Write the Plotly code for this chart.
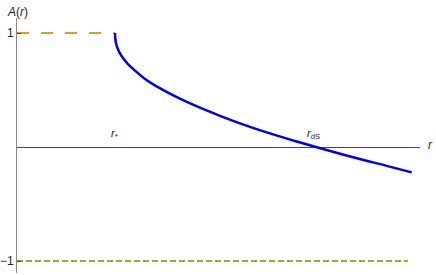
import plotly.graph_objects as go

# Data
r_curve = [1.0, 1.002, 1.008, 1.02, 1.045, 1.085, 1.13, 1.187, 1.303, 1.466, 1.663, 1.867,
           2.071, 2.276, 2.531, 2.837, 3.05, 3.429, 3.772, 4.028]
A_curve = [1.0, 0.96, 0.92, 0.88, 0.83, 0.776, 0.73, 0.683, 0.6, 0.512, 0.424, 0.345,
           0.274, 0.208, 0.133, 0.053, 0.0, -0.09, -0.165, -0.222]
r_orange = [0.0, 1.0]
A_orange = [1.0, 1.0]
r_green = [0.0, 3.99]
A_green = [-1.0, -1.0]
r_star = 1.0
r_dS = 3.03
ytick_vals = [1, -1]
ytick_text = ["1", "\u22121"]

fig = go.Figure()
fig.add_trace(go.Scatter(x=r_orange, y=A_orange, mode="lines",
                         line=dict(color="#E89B1E", width=2, dash="12px,12px"), hoverinfo="skip"))
fig.add_trace(go.Scatter(x=r_green, y=A_green, mode="lines",
                         line=dict(color="#8DB035", width=2, dash="6px,3px"), hoverinfo="skip"))
fig.add_trace(go.Scatter(x=r_curve, y=A_curve, mode="lines", line_shape="spline",
                         line=dict(color="#0000F0", width=2.5, smoothing=1.0), hoverinfo="skip"))

font = dict(family="Liberation Sans, Arial, sans-serif", size=11, color="#222")
font_big = dict(family="Liberation Sans, Arial, sans-serif", size=12, color="#222")
fig.update_layout(
    width=436, height=275,
    margin=dict(l=17, r=16, t=18, b=2, autoexpand=False),
    paper_bgcolor="white", plot_bgcolor="white",
    showlegend=False,
    font=font,
    xaxis=dict(range=[0, 4.112], showgrid=False, zeroline=False, showticklabels=False,
               ticks="", showline=False, fixedrange=True, automargin=False),
    yaxis=dict(range=[-1.105, 1.132], showgrid=False, zeroline=True, zerolinecolor="#444",
               zerolinewidth=1, showline=True, linecolor="#888", linewidth=1,
               tickvals=ytick_vals, ticktext=ytick_text, ticks="inside", ticklen=4,
               tickcolor="#444", tickfont=font_big, fixedrange=True, automargin=False),
    annotations=[
        dict(text="<i>A</i>(<i>r</i>)", xref="paper", yref="paper", x=0, y=1,
             xanchor="center", yanchor="bottom", showarrow=False, font=font_big, yshift=-3),
        dict(text="<i>r</i>", xref="paper", yref="y", x=1, y=0, xanchor="left",
             yanchor="middle", showarrow=False, font=font_big, xshift=6, yshift=2),
        dict(text="<i>r</i><sub>*</sub>", xref="x", yref="y", x=r_star, y=0,
             xanchor="center", yanchor="bottom", showarrow=False, font=font, yshift=4, xshift=-1),
        dict(text="<i>r</i><sub>dS</sub>", xref="x", yref="y", x=r_dS, y=0,
             xanchor="center", yanchor="bottom", showarrow=False, font=font, yshift=4),
    ],
)
fig.write_html("out.html", config={"displayModeBar": False},
               post_script="document.body.style.margin='0';document.body.style.overflow='hidden';")
